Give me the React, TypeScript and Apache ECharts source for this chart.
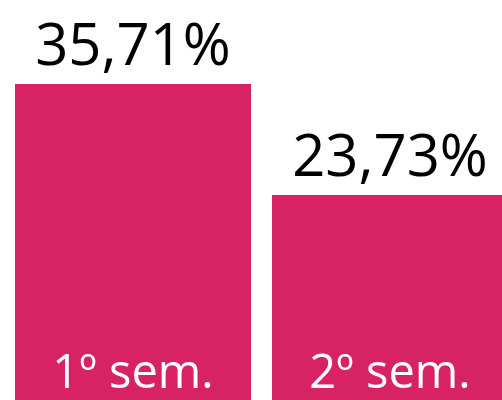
import React, { useEffect, useRef } from "react";
import * as echarts from "echarts";

const categories = ["1º sem.", "2º sem."];
const values = [35.71, 23.73];

export default function App() {
  const ref = useRef<HTMLDivElement>(null);
  useEffect(() => {
    if (!ref.current) return;
    const chart = echarts.init(ref.current, null, { renderer: "svg" });
    chart.setOption({
      animation: false,
      grid: {
        left: 4.5,
        width: 514,
        top: 84,
        bottom: -15,
        containLabel: false,
        outerBoundsMode: "none",
      },
      xAxis: {
        type: "category",
        data: categories,
        axisLine: { show: false },
        axisTick: { show: false },
        axisLabel: {
          inside: true,
          color: "#ffffff",
          fontFamily: "Open Sans",
          fontSize: 47,
          margin: 22,
        },
        z: 10,
      },
      yAxis: {
        type: "value",
        min: 0,
        max: 35.71,
        show: false,
        splitLine: { show: false },
      },
      series: [
        {
          type: "bar",
          data: values,
          barWidth: 236,
          itemStyle: { color: "#D72364" },
          label: {
            show: true,
            position: "top",
            distance: 13,
            color: "#000000",
            fontFamily: "Open Sans",
            fontSize: 58,
            formatter: (p: any) => p.value.toFixed(2).replace(".", ",") + "%",
          },
        },
      ],
    });
    return () => chart.dispose();
  }, []);
  return (
    <div
      ref={ref}
      style={{ position: "fixed", left: 0, top: 0, width: 502, height: 400 }}
    />
  );
}
